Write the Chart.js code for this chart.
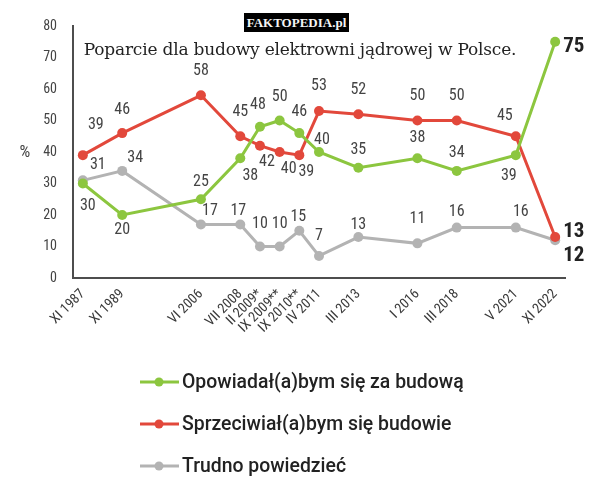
<!DOCTYPE html>
<html>
<head>
<meta charset="utf-8">
<script src="https://cdn.jsdelivr.net/npm/chart.js@4.4.1/dist/chart.umd.min.js"></script>
<style>
  html, body { margin: 0; padding: 0; background: #fff; }
  #wrap { position: relative; width: 600px; height: 483px; }
  #badge {
    position: absolute; left: 244px; top: 13px; width: 105px; height: 19px;
    background: #000; color: #f4f4f4; text-align: center;
    font: bold 13px 'Liberation Serif', serif; line-height: 20px;
  }
  #title {
    position: absolute; left: 0; top: 39px; width: 600px; text-align: center;
    font: 17px 'DejaVu Serif', serif; color: #222; letter-spacing: -0.2px;
  }
</style>
</head>
<body>
<div id="wrap">
  <canvas id="chart" width="600" height="483"></canvas>
  <div id="badge">FAKTOPEDIA.pl</div>
  <div id="title">Poparcie dla budowy elektrowni jądrowej w Polsce.</div>
</div>
<script>
// survey dates; blank slots keep the uneven gaps of the original axis
const axisSlots = ['XI 1987', '', 'XI 1989', '', '', '', 'VI 2006', '', 'VII 2008', 'II 2009*', 'IX 2009**',
    'IX 2010**', 'IV 2011', '', 'III 2013', '', '', 'I 2016', '', 'III 2018', '', '', 'V 2021', '', 'XI 2022'];
const categories = ['XI 1987', 'XI 1989', 'VI 2006', 'VII 2008', 'II 2009*', 'IX 2009**', 'IX 2010**',
    'IV 2011', 'III 2013', 'I 2016', 'III 2018', 'V 2021', 'XI 2022'];

const za = [30, 20, 25, 38, 48, 50, 46, 40, 35, 38, 34, 39, 75];
const przeciw = [39, 46, 58, 45, 42, 40, 39, 53, 52, 50, 50, 45, 13];
const trudno = [31, 34, 17, 17, 10, 10, 15, 7, 13, 11, 16, 16, 12];

const seriesNames = ['Opowiadał(a)bym się za budową', 'Sprzeciwiał(a)bym się budowie', 'Trudno powiedzieć'];
const yTicks = [0, 10, 20, 30, 40, 50, 60, 70, 80];

// where each value label sits relative to its point [dx, dy]
const zaLabelPos = [[5, 22], [0, 15], [0, -17], [10, 18], [-2, -22], [0, -24], [0, -21], [3, -12],
    [0, -18], [0, -20], [0, -18], [-7, 21], [8, 5]];
const przeciwLabelPos = [[13, -30], [0, -23], [0, -24], [0, -24], [7, 16], [9, 17], [7, 17], [0, -25],
    [0, -24], [0, -25], [0, -25], [-11, -20], [8, -5]];
const trudnoLabelPos = [[15, -15], [13, -13], [9, -13], [-2, -13], [0, -23], [0, -23], [-1, -14], [0, -20],
    [0, -12], [0, -24], [0, -16], [5, -16], [8, 16]];

const GREEN = '#8cc63f';
const RED = '#e2483b';
const GRAY = '#b3b3b3';
const NARROW = "'Liberation Sans Narrow', 'Roboto Condensed', 'Liberation Sans', sans-serif";

const toPoints = function (values) {
    return categories.map(function (c, i) { return { x: c, y: values[i] }; });
};

const makeSeries = function (label, values, color, labelPos) {
    return {
        label: label,
        data: toPoints(values),
        borderColor: color,
        backgroundColor: color,
        borderWidth: 3,
        pointRadius: 5,
        pointHoverRadius: 5,
        pointBorderWidth: 0,
        tension: 0,
        labelPos: labelPos
    };
};

const valueLabels = {
    id: 'valueLabels',
    afterDatasetsDraw: function (chart) {
        const ctx = chart.ctx;
        ctx.save();
        ctx.textBaseline = 'middle';
        chart.data.datasets.forEach(function (ds, di) {
            const meta = chart.getDatasetMeta(di);
            meta.data.forEach(function (pt, i) {
                const off = ds.labelPos[i];
                const last = i === ds.data.length - 1;
                if (last) {
                    ctx.font = 'bold 21px ' + NARROW;
                    ctx.fillStyle = '#222';
                    ctx.textAlign = 'left';
                } else {
                    ctx.font = '16px ' + NARROW;
                    ctx.fillStyle = '#444';
                    ctx.textAlign = 'center';
                }
                ctx.fillText(String(ds.data[i].y), pt.x + off[0], pt.y + off[1]);
            });
        });
        ctx.restore();
    }
};

const stackedLegend = {
    id: 'stackedLegend',
    afterDraw: function (chart) {
        const ctx = chart.ctx;
        ctx.save();
        // unit mark beside the y axis
        ctx.font = '17px ' + NARROW;
        ctx.fillStyle = '#444';
        ctx.textAlign = 'center';
        ctx.textBaseline = 'middle';
        ctx.fillText('%', 25, 153);

        ctx.font = '500 19.4px Roboto, sans-serif';
        ctx.textAlign = 'left';
        chart.data.datasets.forEach(function (ds, i) {
            const y = 382 + i * 42;
            ctx.strokeStyle = ds.borderColor;
            ctx.lineWidth = 3;
            ctx.beginPath();
            ctx.moveTo(140, y);
            ctx.lineTo(179, y);
            ctx.stroke();
            ctx.fillStyle = ds.borderColor;
            ctx.beginPath();
            ctx.arc(159, y, 4.5, 0, Math.PI * 2);
            ctx.fill();
            ctx.fillStyle = '#222';
            ctx.fillText(ds.label, 182, y + 1);
        });
        ctx.restore();
    }
};

new Chart(document.getElementById('chart'), {
    type: 'line',
    data: {
        labels: axisSlots,
        datasets: [
            makeSeries(seriesNames[0], za, GREEN, zaLabelPos),
            makeSeries(seriesNames[1], przeciw, RED, przeciwLabelPos),
            makeSeries(seriesNames[2], trudno, GRAY, trudnoLabelPos)
        ]
    },
    options: {
        responsive: false,
        animation: false,
        layout: {
            padding: { top: 26, right: 35, bottom: 145, left: 0 }
        },
        scales: {
            x: {
                type: 'category',
                offset: true,
                grid: { display: false, drawTicks: false },
                border: { display: true, color: '#4d4d4d', width: 2 },
                ticks: {
                    autoSkip: false,
                    maxRotation: 45,
                    minRotation: 45,
                    padding: 8,
                    color: '#3a3a3a',
                    font: { family: NARROW, size: 14 }
                },
                afterFit: function (scale) { scale.height = 60; }
            },
            y: {
                min: 0,
                max: 80,
                grid: { display: false, drawTicks: false },
                border: { display: true, color: '#4d4d4d', width: 2 },
                afterBuildTicks: function (scale) {
                    scale.ticks = yTicks.map(function (v) { return { value: v }; });
                },
                ticks: {
                    padding: 16,
                    color: '#444',
                    font: { family: NARROW, size: 14 }
                },
                afterFit: function (scale) { scale.width = 73; }
            }
        },
        plugins: {
            legend: { display: false },
            tooltip: { enabled: false }
        }
    },
    plugins: [valueLabels, stackedLegend]
});
</script>
</body>
</html>
